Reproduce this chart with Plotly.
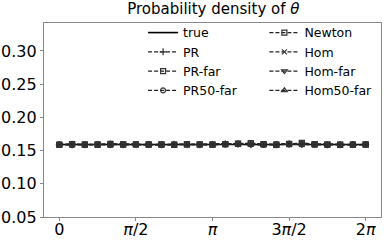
import math
import plotly.graph_objects as go

PI = math.pi
n_pts = 25
theta = [i * 2 * PI / 24 for i in range(n_pts)]

true_x = [0.0, 2 * PI]
true_y = [1 / (2 * PI), 1 / (2 * PI)]

pr       = [0.1590, 0.1595, 0.1588, 0.1592, 0.1597, 0.1589, 0.1593, 0.1591, 0.1586, 0.1594, 0.1590, 0.1588, 0.1593, 0.1598, 0.1601, 0.1596, 0.1590, 0.1587, 0.1594, 0.1599, 0.1592, 0.1589, 0.1586, 0.1590, 0.1592]
pr_far   = [0.1585, 0.1598, 0.1590, 0.1587, 0.1600, 0.1594, 0.1591, 0.1588, 0.1593, 0.1586, 0.1592, 0.1595, 0.1589, 0.1597, 0.1604, 0.1612, 0.1598, 0.1585, 0.1600, 0.1615, 0.1597, 0.1591, 0.1584, 0.1589, 0.1590]
pr50_far = [0.1588, 0.1583, 0.1591, 0.1594, 0.1586, 0.1590, 0.1595, 0.1589, 0.1584, 0.1592, 0.1596, 0.1587, 0.1585, 0.1593, 0.1598, 0.1595, 0.1587, 0.1592, 0.1602, 0.1594, 0.1590, 0.1584, 0.1589, 0.1593, 0.1591]
newton   = [0.1591, 0.1593, 0.1589, 0.1595, 0.1590, 0.1588, 0.1592, 0.1594, 0.1590, 0.1587, 0.1593, 0.1591, 0.1589, 0.1596, 0.1600, 0.1606, 0.1595, 0.1590, 0.1597, 0.1603, 0.1594, 0.1588, 0.1591, 0.1589, 0.1592]
hom      = [0.1589, 0.1592, 0.1594, 0.1588, 0.1591, 0.1596, 0.1590, 0.1587, 0.1592, 0.1595, 0.1589, 0.1586, 0.1594, 0.1599, 0.1597, 0.1592, 0.1588, 0.1595, 0.1600, 0.1593, 0.1587, 0.1592, 0.1595, 0.1588, 0.1590]
hom_far  = [0.1592, 0.1587, 0.1593, 0.1590, 0.1585, 0.1597, 0.1594, 0.1586, 0.1591, 0.1589, 0.1594, 0.1590, 0.1587, 0.1600, 0.1596, 0.1589, 0.1593, 0.1586, 0.1598, 0.1591, 0.1588, 0.1594, 0.1590, 0.1586, 0.1591]
hom50_far= [0.1590, 0.1596, 0.1587, 0.1593, 0.1598, 0.1591, 0.1588, 0.1595, 0.1589, 0.1593, 0.1587, 0.1592, 0.1596, 0.1602, 0.1594, 0.1588, 0.1582, 0.1590, 0.1604, 0.1596, 0.1592, 0.1587, 0.1593, 0.1590, 0.1589]

x_tick_vals = [0, PI / 2, PI, 3 * PI / 2, 2 * PI]
x_tick_text = ["0", "<i>π</i>/2", "<i>π</i>", "3<i>π</i>/2", "2<i>π</i>"]
y_tick_vals = [0.05, 0.10, 0.15, 0.20, 0.25, 0.30]
y_tick_text = ["0.05", "0.10", "0.15", "0.20", "0.25", "0.30"]

fig = go.Figure()

fig.add_trace(go.Scatter(x=true_x, y=true_y, mode="lines", name="true",
                         line=dict(color="black", width=1.6), legend="legend"))

series = [
    ("PR", pr, "cross-thin-open", "legend"),
    ("PR-far", pr_far, "square-open", "legend"),
    ("PR50-far", pr50_far, "circle-open", "legend"),
    ("Newton", newton, "square-open", "legend2"),
    ("Hom", hom, "x-thin-open", "legend2"),
    ("Hom-far", hom_far, "triangle-down-open", "legend2"),
    ("Hom50-far", hom50_far, "triangle-up-open", "legend2"),
]
for name, vals, sym, lg in series:
    fig.add_trace(go.Scatter(
        x=theta, y=vals, mode="lines+markers", name=name, legend=lg,
        line=dict(color="#222", width=1.2, dash="4px,2px"),
        marker=dict(symbol=sym, size=5, color="#333", line=dict(color="#333", width=1.2)),
    ))

font = "DejaVu Sans, sans-serif"
fig.update_layout(
    width=390, height=244,
    margin=dict(l=44, r=9, t=23, b=27),
    paper_bgcolor="white", plot_bgcolor="white",
    title=dict(text="Probability density of <i>θ</i>", x=0.547, xanchor="center",
               y=0.985, yanchor="top", font=dict(family=font, size=15, color="black")),
    showlegend=True,
    legend=dict(x=0.294, y=1.026, xanchor="left", yanchor="top", bgcolor="rgba(0,0,0,0)",
                font=dict(family=font, size=12.5, color="black"), tracegroupgap=0,
                itemwidth=30),
    legend2=dict(x=0.654, y=1.026, xanchor="left", yanchor="top", bgcolor="rgba(0,0,0,0)",
                 font=dict(family=font, size=12.5, color="black"), tracegroupgap=0,
                 itemwidth=30),
    xaxis=dict(range=[-0.1 * PI, 2.1 * PI], tickvals=x_tick_vals, ticktext=x_tick_text,
               showgrid=False, zeroline=False, ticks="outside", ticklen=3, automargin=False,
               ticklabelstandoff=-5,
               tickcolor="#888", showline=True, linecolor="#888", linewidth=1.2, mirror=True,
               tickfont=dict(family=font, size=16, color="black")),
    yaxis=dict(range=[0.05, 0.342], tickvals=y_tick_vals, ticktext=y_tick_text,
               showgrid=False, zeroline=False, ticks="outside", ticklen=3, automargin=False,
               tickcolor="#888", showline=True, linecolor="#888", linewidth=1.2, mirror=True,
               tickfont=dict(family=font, size=16, color="black")),
)

fig.write_html("out.html", config={"displayModeBar": False},
               post_script="document.body.style.margin='0px';document.body.style.padding='0px';")
